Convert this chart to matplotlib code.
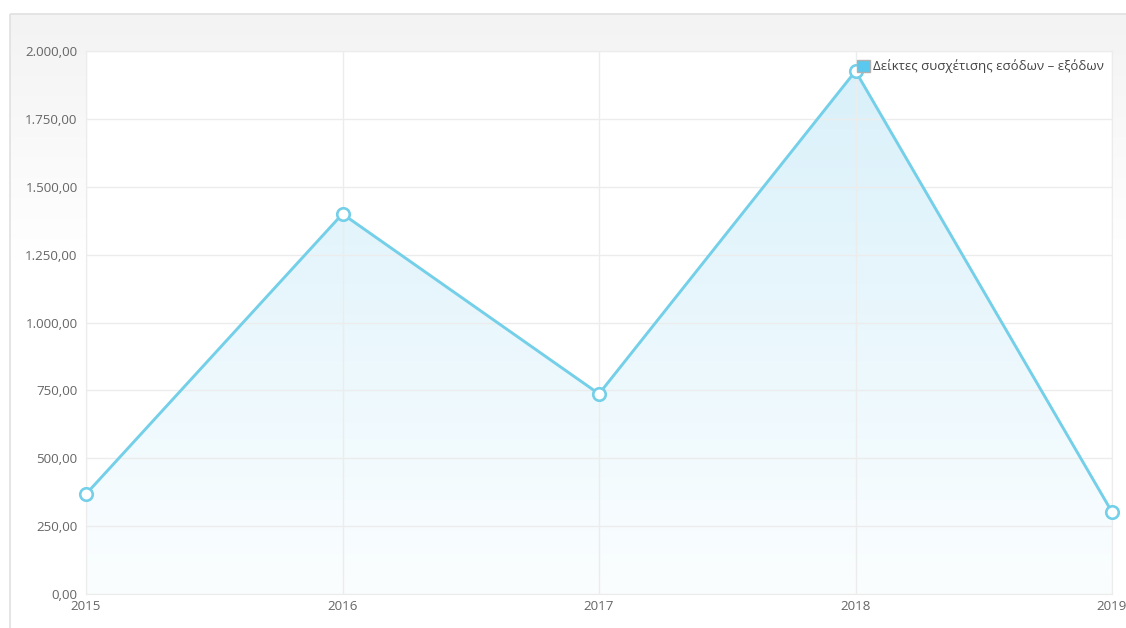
import numpy as np
import matplotlib.pyplot as plt
from matplotlib.ticker import FuncFormatter
from matplotlib.patches import Rectangle, Patch
from matplotlib.colors import to_rgb

years = [2015, 2016, 2017, 2018, 2019]
values = [368, 1400, 737, 1926, 302]
series_label = "Δείκτες συσχέτισης εσόδων – εξόδων"
y_ticks = [0, 250, 500, 750, 1000, 1250, 1500, 1750, 2000]

line_color = "#74cfe8"
plt.rcParams['font.family'] = ['Open Sans', 'DejaVu Sans']


def greek_fmt(v, pos=None):
    s = f"{v:,.2f}"
    return s.replace(",", "X").replace(".", ",").replace("X", ".")


def vgradient(top, bottom, n=256):
    t = np.linspace(0, 1, n).reshape(-1, 1, 1)
    a = np.array(to_rgb(top)).reshape(1, 1, 3)
    b = np.array(to_rgb(bottom)).reshape(1, 1, 3)
    return a * (1 - t) + b * t


fig = plt.figure(figsize=(11.26, 6.28), dpi=100)

# outer panel with a soft gray gradient at the top
bg = fig.add_axes([0, 0, 1, 1], zorder=-10)
bg.set_xlim(0, 1126)
bg.set_ylim(628, 0)
bg.axis("off")
bg.imshow(vgradient("#f3f3f3", "#ffffff"), extent=[10, 1126, 260, 14],
          aspect="auto", zorder=0)
bg.add_patch(Rectangle((10, 14), 1130, 640, fill=False, edgecolor="#e0e0e0", lw=1.2, zorder=1))

# plot area: x 86..1112, y 51..594 px
ax = fig.add_axes([86 / 1126, 1 - 594 / 628, (1112 - 86) / 1126, (594 - 51) / 628])
ax.set_facecolor("white")
ax.set_xlim(years[0], years[-1])
ax.set_ylim(0, 2000)

# gradient fill under the line
poly = ax.fill_between(years, values, 0, color="none", lw=0)
img = ax.imshow(vgradient("#d8f0fa", "#fbfeff"),
                extent=[years[0], years[-1], 0, 2000], aspect="auto", zorder=1)
img.set_clip_path(poly.get_paths()[0], transform=ax.transData)

ax.plot(years, values, color=line_color, lw=2.1, zorder=3, clip_on=False,
        marker="o", markersize=9, markerfacecolor="white",
        markeredgecolor=line_color, markeredgewidth=1.9)

ax.set_xticks(years)
ax.set_yticks(y_ticks)
ax.yaxis.set_major_formatter(FuncFormatter(greek_fmt))
ax.grid(True, color="#ececec", lw=1, zorder=2)
ax.set_axisbelow(False)
for side in ["top", "right", "left", "bottom"]:
    ax.spines[side].set_color("#ececec")
ax.tick_params(length=0, labelsize=9.6, colors="#666666", pad=6)
ax.tick_params(axis="x", pad=4)

ax.legend(handles=[Patch(facecolor="#5bc8ef", edgecolor="#b0b0b0", label=series_label)],
          loc="upper right", bbox_to_anchor=(1.0, 1.0), frameon=False,
          fontsize=9.5, handlelength=1.0, handleheight=1.0, handletextpad=0.2,
          borderaxespad=0.25, labelcolor="#444444")

fig.savefig("out.png", dpi=100)
